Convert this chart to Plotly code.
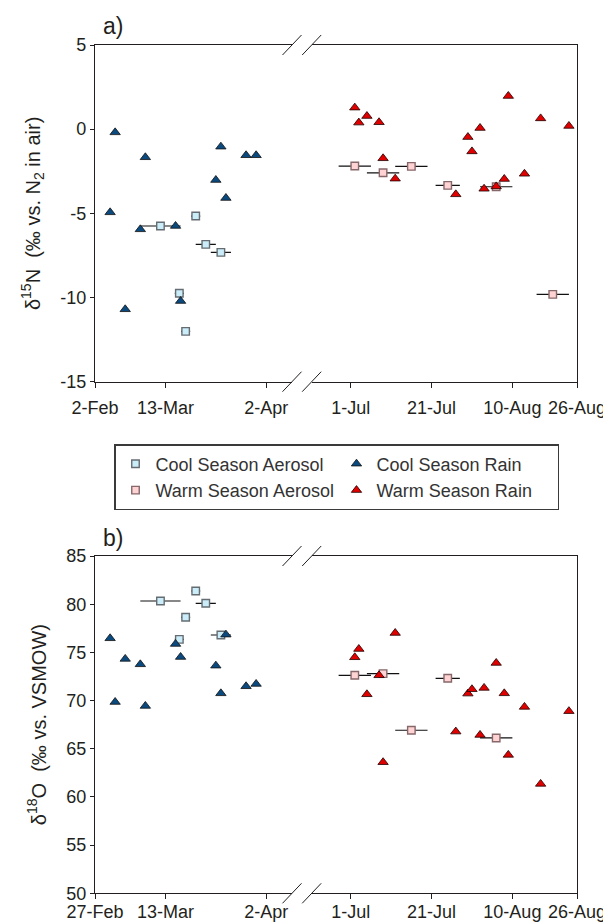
import datetime as dt
import plotly.graph_objects as go

# ---------------- data ----------------
# Cool season rain (triangles)
cool_rain_dates = ["2005-03-02", "2005-03-03", "2005-03-05", "2005-03-08", "2005-03-09", "2005-03-15",
                   "2005-03-16", "2005-03-23", "2005-03-24", "2005-03-25", "2005-03-29", "2005-03-31"]
cool_rain_d15n = [-4.94, -0.19, -10.7, -5.95, -1.67, -5.75, -10.21, -3.02, -1.04, -4.09, -1.55, -1.55]
cool_rain_d18o = [76.46, 69.85, 74.32, 73.76, 69.44, 75.87, 74.52, 73.62, 70.75, 76.84, 71.48, 71.72]

# Cool season aerosol (squares; bars = collection period half-width, days)
cool_aer_dates = ["2005-03-12", "2005-03-15 18:00", "2005-03-17", "2005-03-19", "2005-03-21", "2005-03-24"]
cool_aer_days = [4, 0.9, 0.9, 0.9, 2, 2]
cool_aer_d15n = [-5.75, -9.75, -12.01, -5.16, -6.84, -7.32]
cool_aer_d18o = [80.33, 76.35, 78.64, 81.37, 80.09, 76.8]

# Warm season rain (triangles)
warm_rain_dates = ["2005-07-02", "2005-07-03", "2005-07-05", "2005-07-08", "2005-07-09", "2005-07-12",
                   "2005-07-27", "2005-07-30", "2005-07-31", "2005-08-02", "2005-08-03", "2005-08-06",
                   "2005-08-08", "2005-08-09", "2005-08-13", "2005-08-17", "2005-08-24"]
warm_rain_d15n = [1.28, 0.39, 0.78, 0.41, -1.73, -2.94, -3.87, -0.47, -1.32, 0.07, -3.54, -3.4,
                  -2.96, 1.97, -2.65, 0.64, 0.19]
warm_rain_d18o = [74.49, 75.35, 70.65, 72.62, 63.6, 77.01, 66.78, 70.72, 71.17, 66.43, 71.31, 73.9,
                  70.75, 64.36, 69.34, 61.35, 68.9]

# Warm season aerosol (squares)
warm_aer_dates = ["2005-07-02", "2005-07-09", "2005-07-16", "2005-07-25", "2005-08-06", "2005-08-20"]
warm_aer_days = [4, 4, 4, 3, 4, 4]
warm_aer_d15n = [-2.19, -2.59, -2.21, -3.34, -3.42, -9.81]
warm_aer_d18o = [72.62, 72.79, 66.92, 72.31, 66.12, None]

# axis ticks
left_tick_dates = ["2005-02-27", "2005-03-13", "2005-04-02"]
left_ticktext_a = ["2-Feb", "13-Mar", "2-Apr"]
left_ticktext_b = ["27-Feb", "13-Mar", "2-Apr"]
right_tick_dates = ["2005-07-01", "2005-07-21", "2005-08-10", "2005-08-26"]
right_ticktext = ["1-Jul", "21-Jul", "10-Aug", "26-Aug"]
left_range_dates = ["2005-02-27", "2005-04-07 03:00"]
right_range_dates = ["2005-06-21 08:00", "2005-08-26"]

n15_tickvals = [-15, -10, -5, 0, 5]
n15_ticktext = ["-15", "-10", "-5", "0", "5"]
o18_tickvals = [50, 55, 60, 65, 70, 75, 80, 85]
o18_ticktext = ["50", "55", "60", "65", "70", "75", "80", "85"]


def day(s):
    """day number (days since 1 Jan) used as the linear x coordinate"""
    fmt = "%Y-%m-%d %H:%M" if " " in s else "%Y-%m-%d"
    t = dt.datetime.strptime(s, fmt)
    return (t - dt.datetime(t.year, 1, 1)).total_seconds() / 86400.0


def days(lst):
    return [day(s) for s in lst]


# ---------------- style ----------------
OFF = 8          # page body margin of the browser
W, H = 611, 923  # figure size
FONT = "Liberation Sans, Arial, Helvetica, sans-serif"
AX = "#231f20"


def px(x):
    return (x - OFF) / W


def py(y):
    return 1 - (y - OFF) / H


X_LEFT = [px(95), px(292)]
X_RIGHT = [px(311.7), px(577)]
Y_TOP = [py(381.7), py(45)]
Y_BOT = [py(893.3), py(556)]

m_cool_aer = dict(symbol="square", size=7.5, color="#cbedf9", line=dict(color="#656d72", width=1.4))
m_warm_aer = dict(symbol="square", size=7.5, color="#ffd3d3", line=dict(color="#86676a", width=1.4))
m_cool_rain = dict(symbol="triangle-up", size=9, color="#0b4a7f", line=dict(color="#111111", width=0.8))
m_warm_rain = dict(symbol="triangle-up", size=9, color="#e00000", line=dict(color="#200000", width=0.8))


def errx(d):
    return dict(type="data", array=d, color="#111111", thickness=1.2, width=0)


fig = go.Figure()

panels = [
    ("x", "x2", "y", "y3", "d15n", True),
    ("x3", "x4", "y2", "y4", "d18o", False),
]
for xl, xr, yl, yr, key, show in panels:
    ca = cool_aer_d15n if key == "d15n" else cool_aer_d18o
    cr = cool_rain_d15n if key == "d15n" else cool_rain_d18o
    wa = warm_aer_d15n if key == "d15n" else warm_aer_d18o
    wr = warm_rain_d15n if key == "d15n" else warm_rain_d18o
    fig.add_trace(go.Scatter(x=days(cool_aer_dates), y=ca, mode="markers", name="Cool Season Aerosol",
                             marker=m_cool_aer, error_x=errx(cool_aer_days), xaxis=xl, yaxis=yl,
                             showlegend=show))
    fig.add_trace(go.Scatter(x=days(cool_rain_dates), y=cr, mode="markers", name="Cool Season Rain",
                             marker=m_cool_rain, xaxis=xl, yaxis=yl, showlegend=show))
    fig.add_trace(go.Scatter(x=days(warm_aer_dates), y=wa, mode="markers", name="Warm Season Aerosol",
                             marker=m_warm_aer, error_x=errx(warm_aer_days), xaxis=xr, yaxis=yr,
                             showlegend=show))
    fig.add_trace(go.Scatter(x=days(warm_rain_dates), y=wr, mode="markers", name="Warm Season Rain",
                             marker=m_warm_rain, xaxis=xr, yaxis=yr, showlegend=show))

tickfont = dict(family=FONT, size=18, color=AX)
common_x = dict(type="linear", showline=True, linecolor=AX, linewidth=1.3, mirror=True,
                ticks="outside", ticklen=5, tickwidth=1, tickcolor=AX, tickfont=tickfont,
                showgrid=False, zeroline=False, fixedrange=True)
common_y = dict(type="linear", showline=True, linecolor=AX, linewidth=1.3, showgrid=False,
                zeroline=False, tickfont=tickfont, tickcolor=AX, fixedrange=True)

fig.update_layout(
    xaxis=dict(common_x, domain=X_LEFT, range=days(left_range_dates), tickvals=days(left_tick_dates),
               ticktext=left_ticktext_a, anchor="y", ticklabelstandoff=5),
    xaxis2=dict(common_x, domain=X_RIGHT, range=days(right_range_dates), tickvals=days(right_tick_dates),
                ticktext=right_ticktext, anchor="y3", ticklabelstandoff=5),
    xaxis3=dict(common_x, domain=X_LEFT, range=days(left_range_dates), tickvals=days(left_tick_dates),
                ticktext=left_ticktext_b, anchor="y2", ticklabelstandoff=-3),
    xaxis4=dict(common_x, domain=X_RIGHT, range=days(right_range_dates), tickvals=days(right_tick_dates),
                ticktext=right_ticktext, anchor="y4", ticklabelstandoff=-3),
    yaxis=dict(common_y, domain=Y_TOP, range=[-15, 5], tickvals=n15_tickvals, ticktext=n15_ticktext,
               ticks="outside", ticklen=4, tickwidth=1, anchor="x",
               title=dict(text="δ<sup>15</sup>N&nbsp;&nbsp;(‰ vs. N<sub>2</sub> in air)",
                          font=dict(family=FONT, size=20, color=AX), standoff=14)),
    yaxis3=dict(common_y, domain=Y_TOP, range=[-15, 5], matches="y", anchor="x2", side="right",
                ticks="", showticklabels=False),
    yaxis2=dict(common_y, domain=Y_BOT, range=[50, 85], tickvals=o18_tickvals, ticktext=o18_ticktext,
                ticks="outside", ticklen=4, tickwidth=1, anchor="x3",
                title=dict(text="δ<sup>18</sup>O&nbsp;&nbsp;(‰ vs. VSMOW)",
                           font=dict(family=FONT, size=20, color=AX), standoff=14)),
    yaxis4=dict(common_y, domain=Y_BOT, range=[50, 85], matches="y2", anchor="x4", side="right",
                ticks="", showticklabels=False),
)

# axis break marks "//"
shapes = []
for yline in (45, 381.7, 556, 893.3):
    for xc in (292, 311.7):
        shapes.append(dict(type="line", xref="paper", yref="paper",
                           x0=px(xc - 9.5), y0=py(yline + 10), x1=px(xc + 9.5), y1=py(yline - 10),
                           line=dict(color=AX, width=1)))

annotations = [
    dict(text="a)", x=px(101), y=py(26), xref="paper", yref="paper", xanchor="left", yanchor="middle",
         showarrow=False, font=dict(family=FONT, size=23, color=AX)),
    dict(text="b)", x=px(101), y=py(538), xref="paper", yref="paper", xanchor="left", yanchor="middle",
         showarrow=False, font=dict(family=FONT, size=23, color=AX)),
]

fig.update_layout(
    width=W, height=H,
    margin=dict(l=0, r=0, t=0, b=0),
    paper_bgcolor="white", plot_bgcolor="white",
    template="none",
    shapes=shapes, annotations=annotations,
    font=dict(family=FONT, color=AX),
    legend=dict(orientation="h", x=px(114), y=py(444), xanchor="left", yanchor="top",
                bordercolor="#3a3a3a", borderwidth=1.5, bgcolor="white",
                font=dict(family=FONT, size=18, color="#333333"),
                entrywidth=176, traceorder="normal"),
)

fig.write_html("out.html")
